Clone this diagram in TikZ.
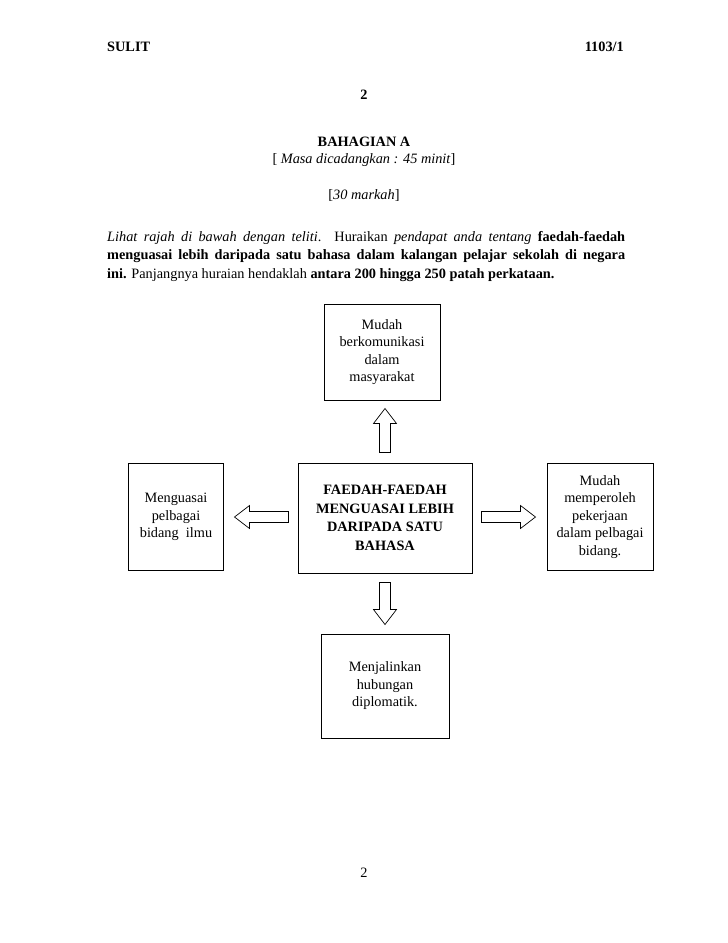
\documentclass[tikz,border=0pt]{standalone}
\usepackage{fontspec}
\setmainfont{Liberation Serif}
\usetikzlibrary{calc}

% hollow block arrow between two named points
\newcommand{\blockarrow}[2]{%
  \coordinate (hb) at ($(#2)!15pt!(#1)$);
  \draw[arrowbox] ($(#1)!5.5pt!90:(#2)$) -- ($(hb)!5.5pt!90:(#2)$) -- ($(hb)!11.5pt!90:(#2)$) -- (#2)
    -- ($(hb)!11.5pt!-90:(#2)$) -- ($(hb)!5.5pt!-90:(#2)$) -- ($(#1)!5.5pt!-90:(#2)$) -- cycle;
}

\begin{document}
\begin{tikzpicture}[x=1pt, y=-1pt,
    every node/.style={font=\fontsize{14.3}{17.5}\selectfont},
    box/.style={draw, line width=1pt, align=center, inner sep=2pt},
    arrowbox/.style={draw, line width=0.7pt}]
    \useasboundingbox[fill=white] (0,0) rectangle (728,943);

    % page header
    \node[anchor=west, inner sep=0pt] (sulit) at (107,47) {\bfseries SULIT};
    \node[anchor=east, inner sep=0pt] (kod) at (624,47) {\bfseries 1103/1};
    \node (halatas) at (364,95) {\bfseries 2};
    \node (bahagian) at (364,142) {\bfseries BAHAGIAN A};
    \node (masa) at (364,160) {[ \textit{Masa dicadangkan : 45 minit}]};
    \node (markah) at (364,195) {[\textit{30 markah}]};

    % question text
    \node[anchor=north west, inner sep=0pt, align=left, font=\fontsize{14.3}{18.5}\selectfont] (soalan) at (107,231)
        {\makebox[518pt][s]{\textit{Lihat rajah di bawah dengan teliti}. Huraikan \textit{pendapat anda tentang} \textbf{faedah-faedah}}\\
         \makebox[518pt][s]{\bfseries menguasai lebih daripada satu bahasa dalam kalangan pelajar sekolah di negara}\\
         \textbf{ini.} Panjangnya huraian hendaklah \textbf{antara 200 hingga 250 patah perkataan.}};

    % boxes
    \node[box, minimum width=174pt, minimum height=110pt, font=\fontsize{14.3}{18.5}\selectfont\bfseries] (faedah) at (385,518)
        {FAEDAH-FAEDAH\\MENGUASAI LEBIH\\DARIPADA SATU\\BAHASA};
    \node[box, minimum width=116pt, minimum height=96pt] (atas) at (382,352)
        {Mudah\\berkomunikasi\\dalam\\masyarakat};
    \node[box, minimum width=95pt, minimum height=107pt] (kiri) at (176,517)
        {Menguasai\\pelbagai\\bidang\ \ ilmu};
    \node[box, minimum width=106pt, minimum height=107pt] (kanan) at (600,517)
        {Mudah\\memperoleh\\pekerjaan\\dalam pelbagai\\bidang.};
    \node[box, minimum width=128pt, minimum height=104pt] (bawah) at (385,686)
        {Menjalinkan\\hubungan\\diplomatik.};

    % block arrows
    \coordinate (up0) at ($(faedah.north)+(0,-10)$);
    \coordinate (up1) at ($(atas.south -| faedah.north)+(0,8)$);
    \coordinate (kr0) at ($(faedah.west |- kiri.east)+(-9,0)$);
    \coordinate (kr1) at ($(kiri.east)+(10.5,0)$);
    \coordinate (kn0) at ($(faedah.east |- kanan.west)+(9,0)$);
    \coordinate (kn1) at ($(kanan.west)+(-11,0)$);
    \coordinate (dn0) at ($(faedah.south)+(0,9)$);
    \coordinate (dn1) at ($(bawah.north)+(0,-9)$);
    \blockarrow{up0}{up1}
    \blockarrow{kr0}{kr1}
    \blockarrow{kn0}{kn1}
    \blockarrow{dn0}{dn1}

    % page footer
    \node (halbawah) at (364,873) {2};
\end{tikzpicture}
\end{document}
